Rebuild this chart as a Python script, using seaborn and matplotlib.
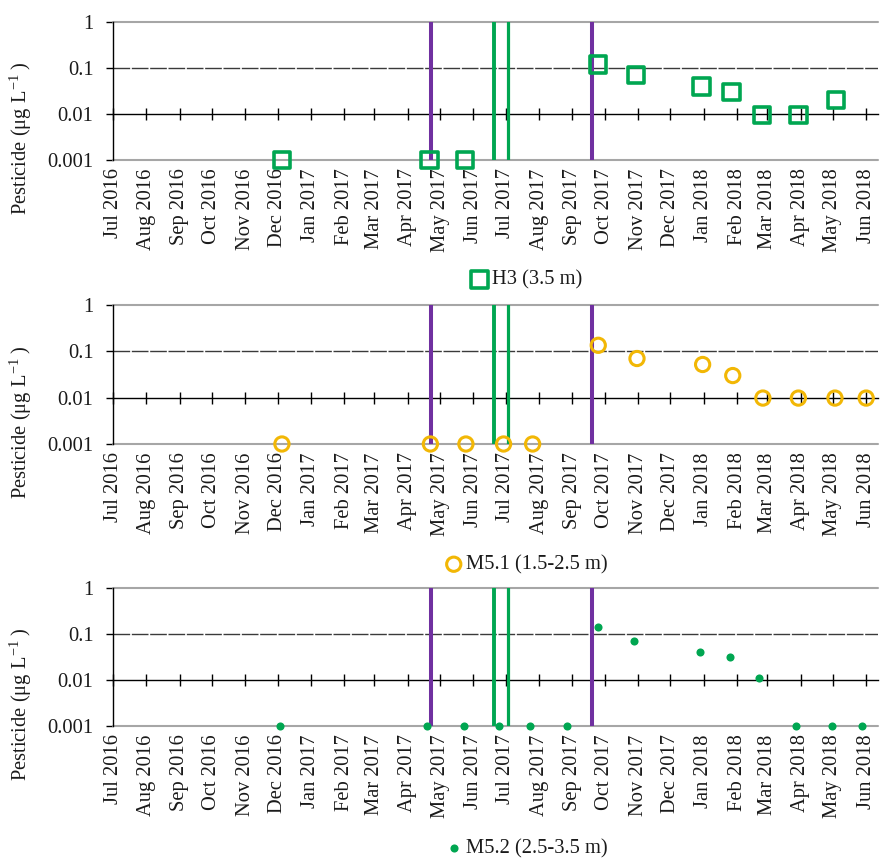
import matplotlib
matplotlib.use("Agg")
import matplotlib.pyplot as plt
import matplotlib.dates as mdates
from matplotlib.ticker import FixedLocator, NullLocator, FixedFormatter
import seaborn as sns
import pandas as pd
import numpy as np

# ---------------- data ----------------
h3_dates = ["2016-12-05", "2017-04-21", "2017-05-24", "2017-09-25", "2017-10-30",
            "2017-12-30", "2018-01-27", "2018-02-24", "2018-03-30", "2018-05-04"]
h3_values = [0.001, 0.001, 0.001, 0.12, 0.07, 0.04, 0.03, 0.0095, 0.0095, 0.02]

m51_dates = ["2016-12-05", "2017-04-22", "2017-05-25", "2017-06-29", "2017-07-26",
             "2017-09-25", "2017-10-31", "2017-12-31", "2018-01-28", "2018-02-25",
             "2018-03-30", "2018-05-03", "2018-06-01"]
m51_values = [0.001, 0.001, 0.001, 0.001, 0.001, 0.135, 0.07, 0.052, 0.03,
              0.0098, 0.0098, 0.0098, 0.0098]

m52_dates = ["2016-12-03", "2017-04-19", "2017-05-23", "2017-06-25", "2017-07-24",
             "2017-08-27", "2017-09-25", "2017-10-28", "2017-12-29", "2018-01-25",
             "2018-02-21", "2018-03-28", "2018-04-30", "2018-05-28"]
m52_values = [0.001, 0.001, 0.001, 0.001, 0.001, 0.001, 0.14, 0.07, 0.04, 0.031,
              0.011, 0.001, 0.001, 0.001]

purple_events = ["2017-04-23", "2017-09-19"]
green_events = ["2017-06-20", "2017-07-03"]
green_event_widths = [2.8, 2.3]

series_labels = ["H3 (3.5 m)", "M5.1 (1.5-2.5 m)", "M5.2 (2.5-3.5 m)"]
y_ticks = [0.001, 0.01, 0.1, 1]
y_tick_labels = ["0.001", "0.01", "0.1", "1"]
x_start, x_end = "2016-07-01", "2018-06-12"

GREEN = "#00A651"
GOLD = "#F2B705"
PURPLE = "#7030A0"
TXT = "#1a1a1a"

# ---------------- style ----------------
sns.set_style("white")
plt.rcParams["font.family"] = ["Liberation Serif", "DejaVu Serif"]
plt.rcParams["mathtext.default"] = "regular"
FS = 14.8

fig = plt.figure(figsize=(8.8, 8.59), dpi=100)
W, H = 880, 859

def axes_px(left, top, right, bottom):
    return fig.add_axes([left / W, 1 - bottom / H, (right - left) / W, (bottom - top) / H])

panels = [
    (axes_px(113, 22, 878, 160), h3_dates, h3_values,
     dict(marker="s", s=140, facecolor="none", edgecolor=GREEN, linewidth=2.6, color=GREEN),
     series_labels[0], -0.87),
    (axes_px(113, 305, 878, 444), m51_dates, m51_values,
     dict(marker="o", s=105, facecolor="none", edgecolor=GOLD, linewidth=2.2, color=GOLD),
     series_labels[1], -0.87),
    (axes_px(113, 588, 878, 726), m52_dates, m52_values,
     dict(marker="o", s=34, facecolor=GREEN, edgecolor=GREEN, linewidth=0, color=GREEN),
     series_labels[2], -0.89),
]

for ax, dates, vals, kws, lab, legy in panels:
    df = pd.DataFrame({"date": pd.to_datetime(dates), "value": vals})
    ax.set_yscale("log")
    ax.set_ylim(y_ticks[0], y_ticks[-1])
    ax.set_xlim(pd.Timestamp(x_start), pd.Timestamp(x_end))

    # horizontal reference lines at decades (axis itself crosses at 0.01)
    ax.axhline(y_ticks[0], color="#A6A6A6", lw=1.5, zorder=1, clip_on=False)
    ax.axhline(y_ticks[3], color="#A6A6A6", lw=1.5, zorder=1, clip_on=False)
    ax.axhline(y_ticks[2], color="#3a3a3a", lw=1.0, ls=(0, (12, 1.2)), zorder=1)

    # event lines
    for d in purple_events:
        ax.axvline(pd.Timestamp(d), color=PURPLE, lw=2.9, zorder=2)
    for d, w in zip(green_events, green_event_widths):
        ax.axvline(pd.Timestamp(d), color=GREEN, lw=w, zorder=2)

    sns.scatterplot(data=df, x="date", y="value", ax=ax, label=lab, zorder=4,
                    clip_on=False, **kws)

    # y axis
    ax.yaxis.set_major_locator(FixedLocator(y_ticks))
    ax.yaxis.set_major_formatter(FixedFormatter(y_tick_labels))
    ax.yaxis.set_minor_locator(NullLocator())
    ax.tick_params(axis="y", which="major", direction="out", length=5, width=1,
                   color="black", labelsize=FS, pad=9, left=True, labelcolor=TXT)
    ax.grid(False)

    # spines
    ax.spines["top"].set_visible(False)
    ax.spines["right"].set_visible(False)
    ax.spines["left"].set_color("black")
    ax.spines["left"].set_linewidth(1.0)
    ax.spines["bottom"].set_position(("data", y_ticks[1]))
    ax.spines["bottom"].set_color("black")
    ax.spines["bottom"].set_linewidth(1.0)
    ax.spines["bottom"].set_zorder(1.5)

    ax.xaxis.set_major_locator(mdates.MonthLocator())
    ax.xaxis.set_minor_locator(NullLocator())
    ax.tick_params(axis="x", which="major", direction="inout", length=8.6, width=1,
                   color="black", labelbottom=False, bottom=True)

    sec = ax.secondary_xaxis("bottom")
    sec.xaxis.set_major_locator(mdates.MonthLocator())
    sec.xaxis.set_major_formatter(mdates.DateFormatter("%b %Y"))
    sec.tick_params(length=0, labelsize=FS, labelrotation=90, pad=6, labelcolor=TXT)
    sec.spines["bottom"].set_visible(False)

    ax.set_xlabel("")
    ax.set_ylabel(r"Pesticide (μg L$^{-1}$ )", fontsize=FS, color=TXT)
    ax.yaxis.label.set_va("center")
    ax.yaxis.set_label_coords(-0.121, 0.16)

    ax.legend(loc="center", bbox_to_anchor=(0.54, legy), frameon=False,
              fontsize=FS, handletextpad=0.15, borderpad=0, handlelength=0.9,
              labelcolor=TXT)

fig.savefig("out.png", dpi=100)
